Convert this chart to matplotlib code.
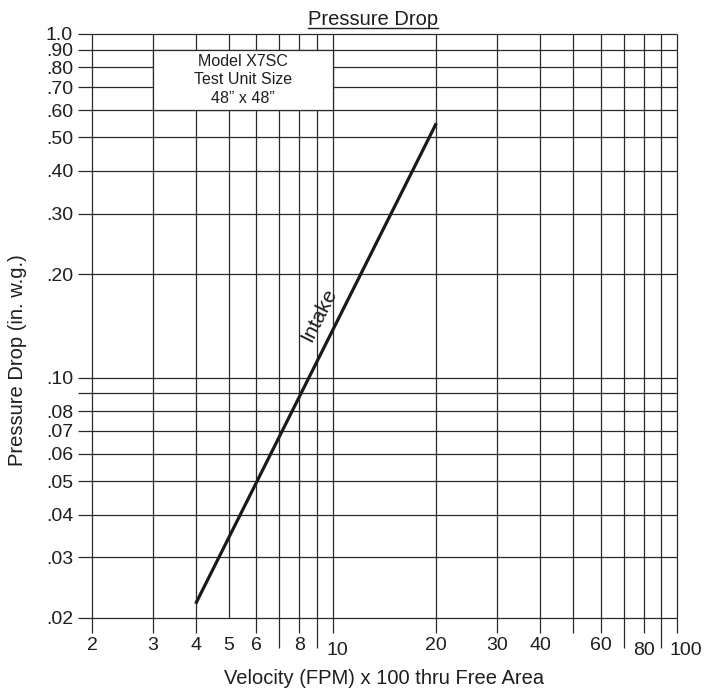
import matplotlib
matplotlib.use("Agg")
import matplotlib.pyplot as plt
from matplotlib.patches import Rectangle
from matplotlib.lines import Line2D

plt.rcParams['font.family'] = ['Liberation Sans', 'DejaVu Sans']

# chart values
x_grid = [2, 3, 4, 5, 6, 7, 8, 9, 10, 20, 30, 40, 50, 60, 70, 80, 90, 100]
x_tick_vals = [2, 3, 4, 5, 6, 8, 10, 20, 30, 40, 60, 80, 100]
x_tick_text = ['2', '3', '4', '5', '6', '8', '10', '20', '30', '40', '60', '80', '100']
y_grid = [0.02, 0.03, 0.04, 0.05, 0.06, 0.07, 0.08, 0.09, 0.10,
          0.20, 0.30, 0.40, 0.50, 0.60, 0.70, 0.80, 0.90, 1.0]
y_tick_vals = [0.02, 0.03, 0.04, 0.05, 0.06, 0.07, 0.08, 0.10,
               0.20, 0.30, 0.40, 0.50, 0.60, 0.70, 0.80, 0.90, 1.0]
y_tick_text = ['.02', '.03', '.04', '.05', '.06', '.07', '.08', '.10',
               '.20', '.30', '.40', '.50', '.60', '.70', '.80', '.90', '1.0']
intake_velocity = [4, 20]
intake_drop = [0.022, 0.55]

long_ticks = [7, 9, 70, 90]
no_ticks = [5]
shifted_labels = {'10': 5, '80': 0, '100': 9}

W, H = 708, 691
fig = plt.figure(figsize=(W / 100, H / 100), dpi=100)
left, right, top, bottom = 92, 677, 34, 618
ax = fig.add_axes([left / W, 1 - bottom / H, (right - left) / W, (bottom - top) / H])
ax.set_xscale('log')
ax.set_yscale('log')
ax.set_xlim(2, 100)
ax.set_ylim(0.02, 1.0)
for s in ax.spines.values():
    s.set_visible(False)
ax.set_xticks([])
ax.set_yticks([])
ax.minorticks_off()
ax.patch.set_alpha(0)

ah = bottom - top
aw = right - left
grid_col = '#2a2a2a'
grid_lw = 0.9
text_col = '#1e1e1e'

# vertical grid lines (with tick extensions below the bottom line)
xt = ax.get_xaxis_transform()
for xv in x_grid:
    if xv in no_ticks:
        lo = 0
    elif xv in long_ticks:
        lo = -30 / ah
    else:
        lo = -15 / ah
    ax.plot([xv, xv], [lo, 1], transform=xt, color=grid_col, lw=grid_lw,
            clip_on=False, solid_capstyle='butt', zorder=1)

# horizontal grid lines (extending left past the axis)
yt = ax.get_yaxis_transform()
for yv in y_grid:
    ax.plot([-14 / aw, 1], [yv, yv], transform=yt, color=grid_col, lw=grid_lw,
            clip_on=False, solid_capstyle='butt', zorder=1)

# info box
ax.add_patch(Rectangle((3, 0.6), 7, 0.3, facecolor='white', edgecolor=grid_col,
                       lw=grid_lw, zorder=2))
ax.text((3 * 10) ** 0.5, 0.735, 'Model X7SC\nTest Unit Size\n48\u201d x 48\u201d',
        ha='center', va='center', fontsize=11.5, linespacing=1.3, color=text_col,
        zorder=3)

# intake line
ax.plot(intake_velocity, intake_drop, color='#1a1a1a', lw=2.3, zorder=4,
        solid_capstyle='butt')
ax.text(9.1, 0.152, 'Intake', rotation=63.4, ha='center', va='center',
        fontsize=15, color=text_col, zorder=5, rotation_mode='anchor')

# tick labels
for xv, lab in zip(x_tick_vals, x_tick_text):
    dx = shifted_labels.get(lab, 0)
    dy = 5 if lab in shifted_labels else 0
    ax.annotate(lab, xy=(xv, 0), xycoords=xt, xytext=(dx * 0.72, -(19 + dy) * 0.72),
                textcoords='offset points', ha='center', va='top', fontsize=14,
                color=text_col)
for yv, lab in zip(y_tick_vals, y_tick_text):
    ax.annotate(lab, xy=(0, yv), xycoords=yt, xytext=(-19 * 0.72, 0),
                textcoords='offset points', ha='right', va='center_baseline',
                fontsize=14, color=text_col)

# axis labels
fig.text(384 / W, 1 - 679 / H, 'Velocity (FPM) x 100 thru Free Area', ha='center',
         va='center', fontsize=14.5, color=text_col)
fig.text(18 / W, 1 - 360 / H, 'Pressure Drop (in. w.g.)', ha='center', va='center',
         rotation=90, fontsize=14.5, color=text_col)

# underlined title
title = fig.text(438 / W, 1 - 25 / H, 'Pressure Drop', ha='right', va='baseline',
                 fontsize=14.5, color=text_col)
fig.canvas.draw()
bb = title.get_window_extent()
fig.add_artist(Line2D([bb.x0 / W, bb.x1 / W], [1 - 28 / H, 1 - 28 / H],
                      transform=fig.transFigure, color=text_col, lw=1.0))

fig.savefig('out.png', dpi=100)
